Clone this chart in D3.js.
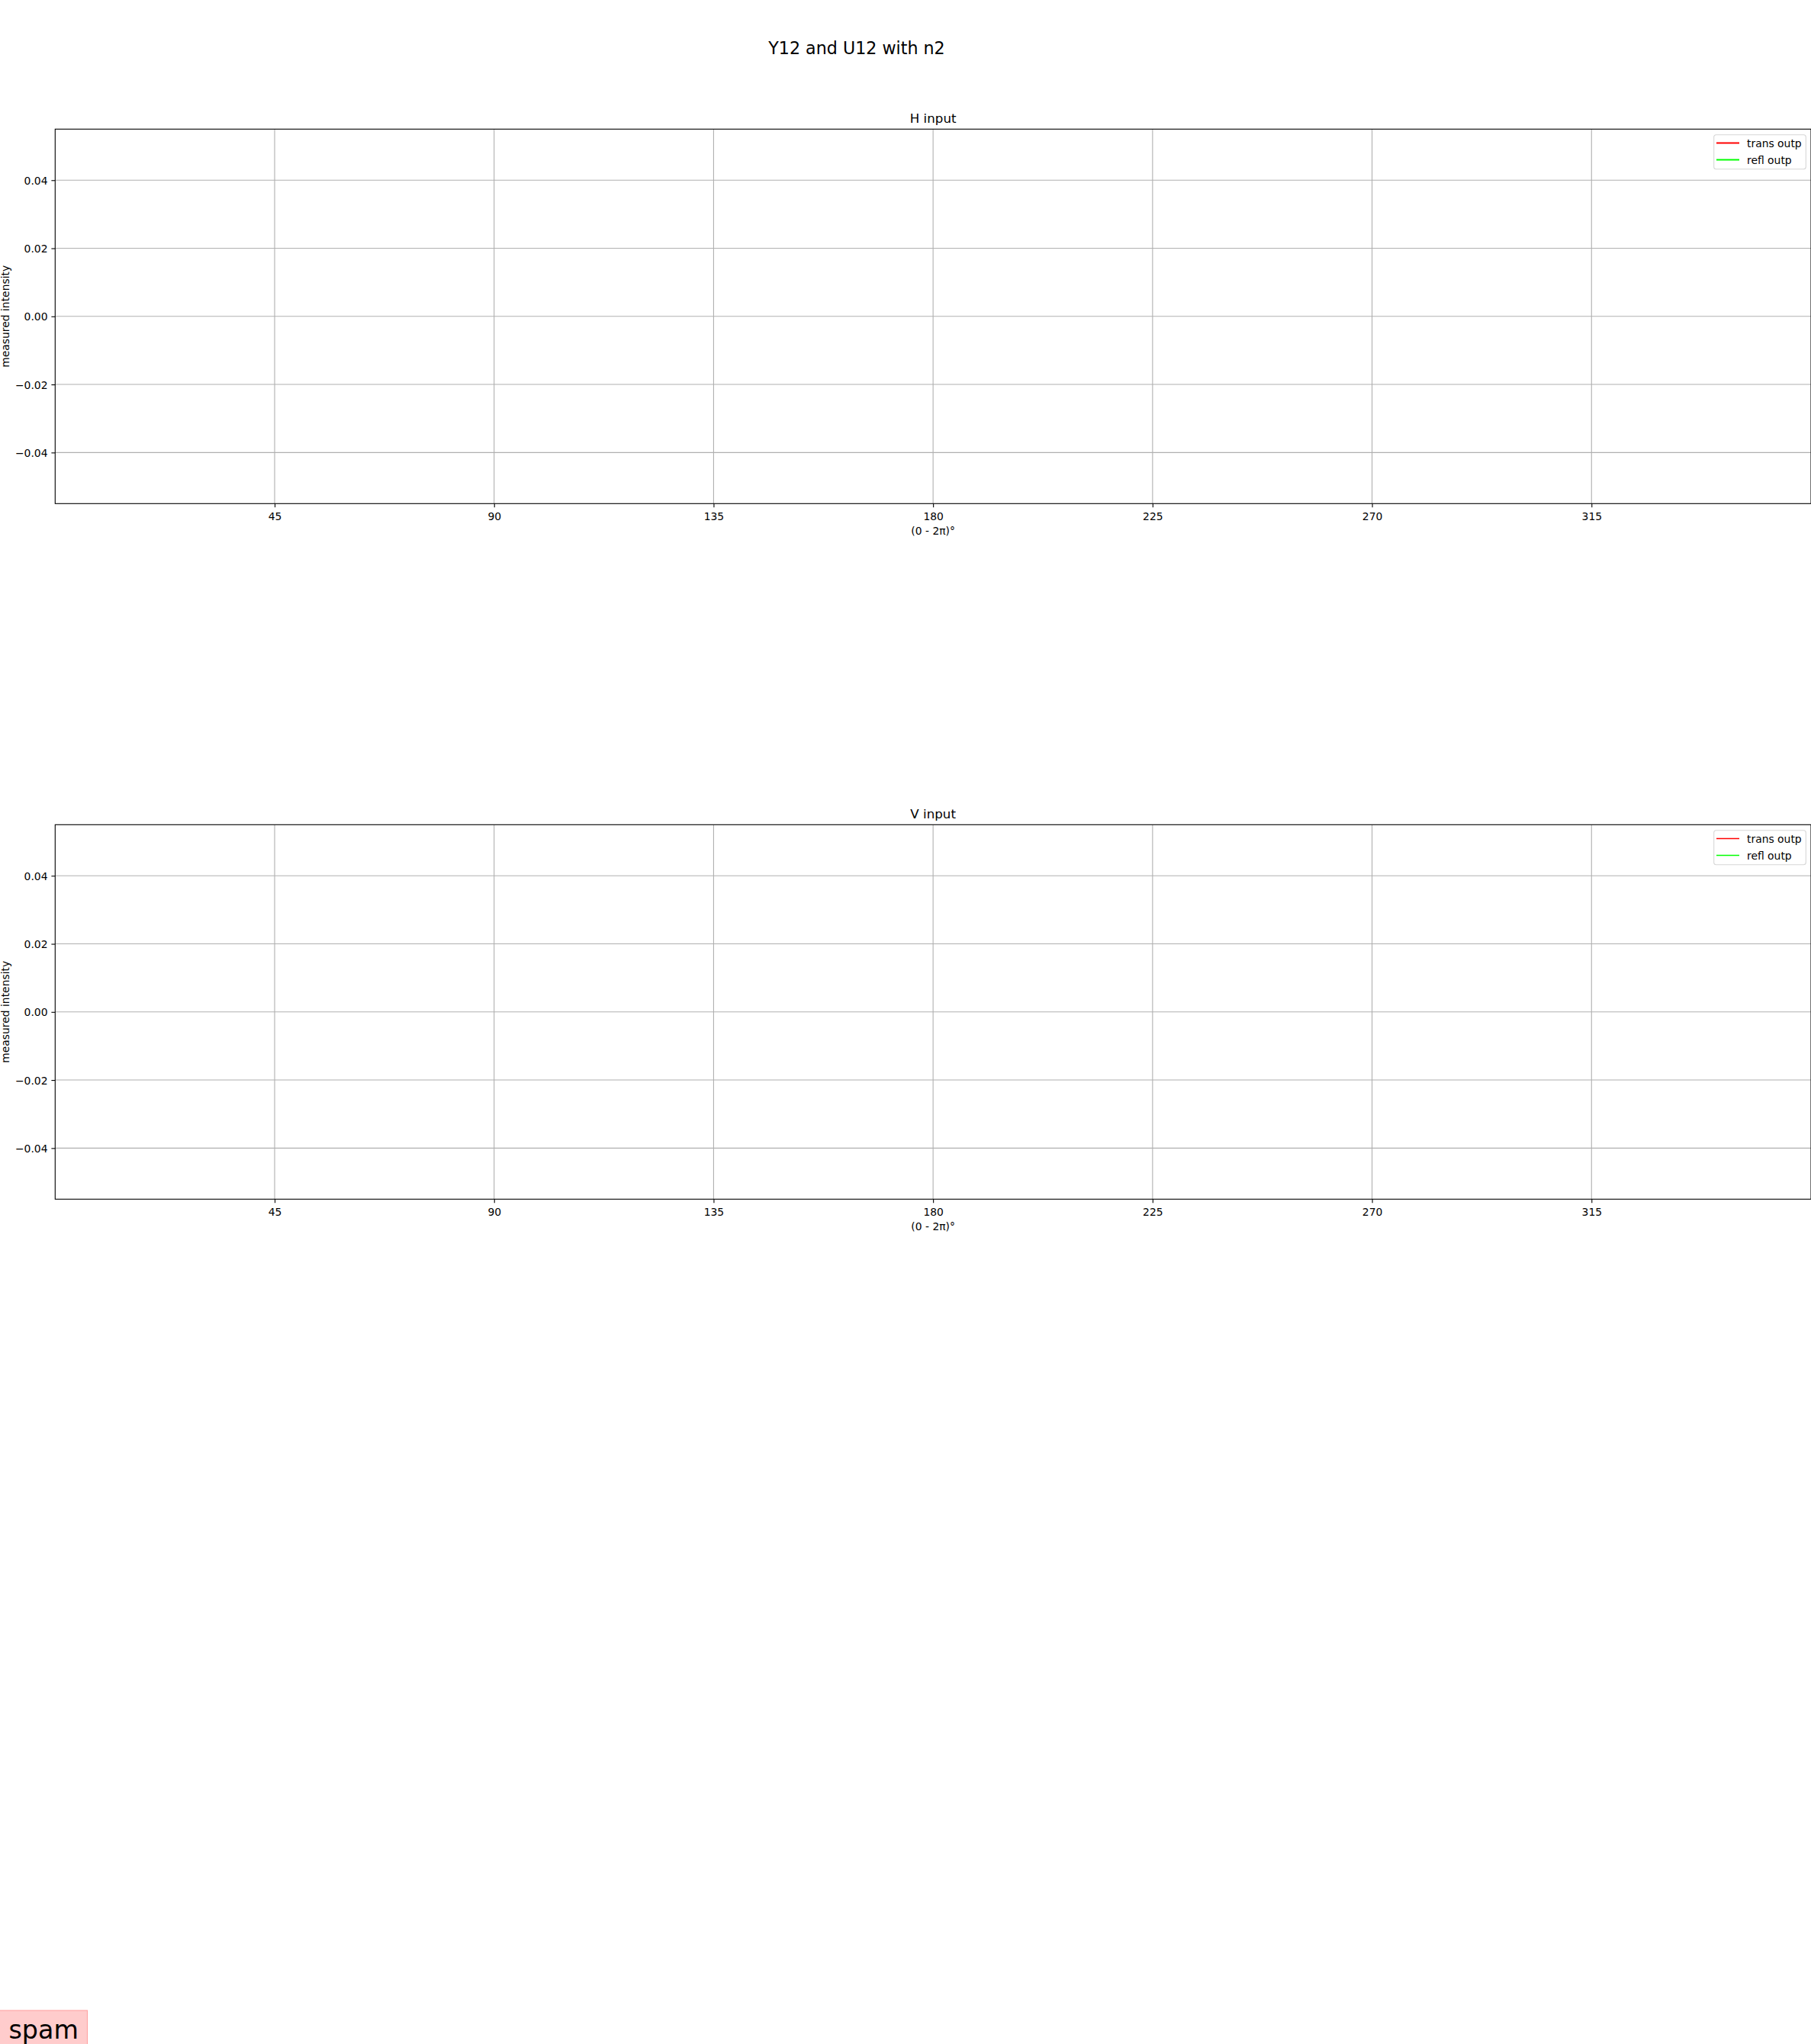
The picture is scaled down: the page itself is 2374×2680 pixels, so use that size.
<!DOCTYPE html>
<html>
<head>
<meta charset="utf-8">
<script src="https://cdn.jsdelivr.net/npm/d3@7"></script>
<style>
  html, body { margin: 0; padding: 0; background: #fff; }
  svg { display: block; font-family: "DejaVu Sans", sans-serif; }
</style>
</head>
<body>
<script>
// ---- data ----
const figureTitle = "Y12 and U12 with n2";
const panelTitles = ["H input", "V input"];
const seriesNames = ["trans outp", "refl outp"];
const seriesColors = ["#ff0000", "#00ff00"];
const transOutpH = [];   // no data points visible
const reflOutpH = [];
const transOutpV = [];
const reflOutpV = [];
const xTicks = [45, 90, 135, 180, 225, 270, 315];
const yTicks = [-0.04, -0.02, 0.00, 0.02, 0.04];
const xDomain = [0, 360];
const yDomain = [-0.055, 0.055];
const xLabel = "(0 - 2π)°";
const yLabel = "measured intensity";
const noteText = "spam";

const W = 2374, H = 2680;
const svg = d3.select("body").append("svg").attr("width", W).attr("height", H);

svg.append("text").attr("x", 1123).attr("y", 70.5).attr("text-anchor", "middle")
  .attr("font-size", 22.2).text(figureTitle);

const panels = [
  { title: panelTitles[0], top: 169.3, bottom: 660.3, series: [transOutpH, reflOutpH], lw: 2 },
  { title: panelTitles[1], top: 1081.3, bottom: 1572.3, series: [transOutpV, reflOutpV], lw: 1.5 }
];
const left = 72.3, right = 2374;
const fs = 13.9;

panels.forEach(p => {
  const x = d3.scaleLinear().domain(xDomain).range([left, right]);
  const y = d3.scaleLinear().domain(yDomain).range([p.bottom, p.top]);
  const g = svg.append("g");

  // grid
  g.selectAll(".gx").data(xTicks).enter().append("line")
    .attr("x1", d => x(d)).attr("x2", d => x(d)).attr("y1", p.top).attr("y2", p.bottom)
    .attr("stroke", "#b0b0b0").attr("stroke-width", 1.1);
  g.selectAll(".gy").data(yTicks).enter().append("line")
    .attr("y1", d => y(d)).attr("y2", d => y(d)).attr("x1", left).attr("x2", right)
    .attr("stroke", "#b0b0b0").attr("stroke-width", 1.1);

  // series
  const line = d3.line().x(d => x(d[0])).y(d => y(d[1]));
  p.series.forEach((s, i) => {
    g.append("path").datum(s).attr("d", line(s) || null).attr("fill", "none")
      .attr("stroke", seriesColors[i]).attr("stroke-width", p.lw);
  });

  // axes
  const xAxis = d3.axisBottom(x).tickValues(xTicks).tickSize(4.9).tickPadding(4.9).tickFormat(d3.format("d"));
  const gx = g.append("g").attr("transform", `translate(0,${p.bottom})`).call(xAxis);
  const yAxis = d3.axisLeft(y).tickValues(yTicks).tickSize(4.9).tickPadding(4.9).tickFormat(d3.format(".2f"));
  const gy = g.append("g").attr("transform", `translate(${left},0)`).call(yAxis);
  [gx, gy].forEach(a => {
    a.select(".domain").remove();
    a.selectAll(".tick line").attr("stroke", "#000").attr("stroke-width", 1.1);
    a.selectAll(".tick text").attr("font-size", fs).attr("fill", "#000")
      .attr("font-family", "DejaVu Sans");
  });
  gx.selectAll(".tick text").attr("dy", null).attr("y", 21.5);
  gy.selectAll(".tick text").attr("dy", "0.36em");

  // spines
  g.append("rect").attr("x", left).attr("y", p.top).attr("width", right - left).attr("height", p.bottom - p.top)
    .attr("fill", "none").attr("stroke", "#000").attr("stroke-width", 1.1);

  // titles & labels
  g.append("text").attr("x", (left + right) / 2).attr("y", p.top - 8).attr("text-anchor", "middle")
    .attr("font-size", 16.7).text(p.title);
  g.append("text").attr("x", (left + right) / 2).attr("y", p.bottom + 40.5).attr("text-anchor", "middle")
    .attr("font-size", fs).text(xLabel);
  g.append("text").attr("transform", `translate(12,${(p.top + p.bottom) / 2}) rotate(-90)`)
    .attr("text-anchor", "middle").attr("font-size", fs).text(yLabel);

  // legend
  const lg = g.append("g").attr("transform", `translate(2246.7,${p.top + 7.4})`);
  lg.append("rect").attr("x", 0).attr("y", 0).attr("width", 120.6).attr("height", 45).attr("rx", 3)
    .attr("fill", "rgba(255,255,255,0.8)").attr("stroke", "#d6d6d6").attr("stroke-width", 1.1);
  seriesNames.forEach((n, i) => {
    const yy = 10.8 + i * 22;
    lg.append("line").attr("x1", 3.3).attr("x2", 33.3).attr("y1", yy).attr("y2", yy)
      .attr("stroke", seriesColors[i]).attr("stroke-width", p.lw);
    lg.append("text").attr("x", 43.3).attr("y", yy + 5.4).attr("font-size", fs).text(n);
  });
});

// note box
svg.append("rect").attr("x", -2).attr("y", 2636).attr("width", 116.5).attr("height", 60)
  .attr("fill", "#ffcccc").attr("stroke", "#ffa3a3").attr("stroke-width", 1.1);
svg.append("text").attr("x", 11.5).attr("y", 2673).attr("font-size", 33.3).text(noteText);
</script>
</body>
</html>
